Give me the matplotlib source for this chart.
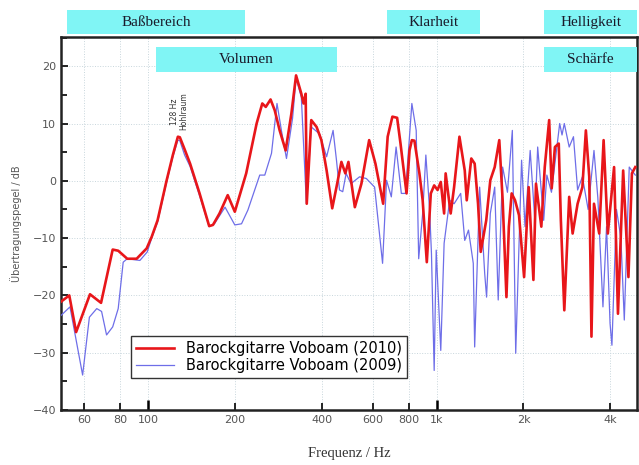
import matplotlib
matplotlib.use("Agg")
import matplotlib.pyplot as plt
from matplotlib.patches import Rectangle
from matplotlib.ticker import FixedLocator, MultipleLocator, NullLocator

freq_2010 = [50, 53.4, 56.4, 63, 68.8, 75.5, 78.9, 84.8, 91.4, 99, 103, 108, 116, 122, 127, 129,
             134, 140, 151, 163, 168, 177, 189, 200, 219, 238, 249, 256, 266, 275, 286, 300,
             314, 326, 340, 346, 352, 355, 368, 384, 399, 416, 435, 450, 468, 483, 495, 521,
             549, 584, 614, 653, 677, 703, 730, 750, 762, 787, 806, 821, 838, 872, 895, 925,
             955, 981, 1008, 1034, 1062, 1075, 1119, 1150, 1200, 1252, 1272, 1319, 1355, 1392,
             1422, 1486, 1535, 1590, 1649, 1694, 1746, 1780, 1820, 1870, 1930, 2010, 2085,
             2165, 2210, 2306, 2370, 2455, 2505, 2570, 2650, 2695, 2770, 2880, 2960, 3080,
             3200, 3290, 3380, 3440, 3510, 3660, 3790, 3920, 4120, 4250, 4430, 4620, 4750, 4880]
db_2010 = [-21.1, -20.0, -26.4, -19.8, -21.3, -12.0, -12.2, -13.6, -13.6, -11.8, -9.8, -6.9,
           0.0, 4.5, 7.7, 7.6, 5.5, 3.0, -2.2, -7.9, -7.7, -5.7, -2.5, -5.4, 1.3, 10.0, 13.5,
           12.9, 14.2, 12.3, 8.8, 5.3, 11.7, 18.4, 15.2, 13.5, 15.2, -4.0, 10.6, 9.4, 7.1, 1.8,
           -4.8, -1.1, 3.3, 1.3, 3.3, -4.6, -0.5, 7.1, 3.0, -4.0, 7.7, 11.2, 11.0, 6.5, 3.6,
           -2.2, 5.3, 7.1, 7.0, 1.3, -3.4, -14.2, -2.2, -0.8, -1.6, -0.2, -5.7, 1.3, -5.7,
           -1.1, 7.7, 1.8, -3.4, 3.9, 3.0, -4.0, -12.4, -6.9, 0.1, 2.4, 7.1, -3.4, -20.3,
           -8.0, -2.2, -3.4, -6.0, -16.8, -1.1, -17.3, -0.5, -8.0, 2.4, 10.6, -1.3, 5.9, 6.5,
           -6.9, -22.6, -2.8, -9.2, -4.0, -1.1, 8.8, 0.7, -27.2, -4.0, -9.2, 7.1, -9.2, 2.4,
           -23.2, 1.8, -16.8, 1.3, 2.4]

freq_2009 = [50, 53.7, 59.4, 62.7, 66.5, 69.1, 71.9, 75.5, 78.9, 82.1, 84.8, 93.8, 99.5, 103,
             108, 116, 122, 127, 129, 134, 140, 151, 163, 170, 185, 200, 211, 222, 244, 254,
             268, 280, 290, 302, 317, 326, 340, 354, 368, 393, 416, 438, 450, 461, 473, 486,
             505, 541, 571, 610, 650, 671, 697, 724, 755, 780, 821, 850, 867, 895, 918, 946,
             960, 981, 997, 1034, 1062, 1110, 1150, 1212, 1252, 1290, 1340, 1355, 1410, 1468,
             1490, 1535, 1590, 1635, 1694, 1760, 1830, 1880, 1970, 2025, 2110, 2190, 2240,
             2350, 2410, 2500, 2670, 2720, 2770, 2880, 2980, 3080, 3200, 3350, 3510, 3620,
             3770, 3880, 3990, 4050, 4200, 4350, 4470, 4650, 4880]
db_2009 = [-23.5, -22.0, -33.9, -23.8, -22.3, -22.8, -26.9, -25.5, -22.3, -14.2, -13.6, -13.9,
           -12.4, -10.0, -7.2, -0.3, 4.2, 7.1, 7.0, 4.5, 2.5, -2.6, -8.0, -7.5, -4.6, -7.7,
           -7.5, -5.1, 1.0, 1.0, 4.8, 13.5, 8.8, 3.9, 10.9, 17.9, 14.6, -4.0, 9.4, 8.2, 4.2,
           8.8, 3.6, -1.6, -1.9, 1.3, -0.5, 0.7, 0.4, -1.1, -14.4, 0.1, -2.8, 5.9, -2.2, -2.2,
           13.5, 8.8, -13.6, -5.7, 4.5, -5.1, -12.7, -33.1, -12.1, -29.6, -10.9, -3.4, -4.0,
           -2.2, -10.4, -8.6, -14.4, -29.0, -1.1, -16.2, -20.3, -5.7, -1.1, -20.8, 2.4, -2.0,
           8.8, -30.1, 3.6, -8.0, 5.3, -6.9, 5.9, -6.9, 1.0, -2.0, 10.0, 8.0, 10.0, 5.9, 7.7,
           -1.6, 0.7, -5.0, 5.3, -3.0, -22.0, -8.0, -24.9, -28.7, -5.0, -10.0, -24.3, 2.4, 1.0]

x_ticks = [60, 80, 100, 200, 400, 600, 800, 1000, 2000, 4000]
x_labels = ["60", "80", "100", "200", "400", "600", "800", "1k", "2k", "4k"]

# Bereiche oben: (Text, f_min, f_max, obere Reihe?)
bereiche = [("Baßbereich", 52.5, 217, True), ("Klarheit", 676, 1409, True),
            ("Helligkeit", 2365, 4950, True), ("Volumen", 107, 451, False),
            ("Schärfe", 2365, 4950, False)]

fig = plt.figure(figsize=(6.39, 4.65), dpi=100)
ax = fig.add_axes([0.0955, 0.1183, 0.9015, 0.8021])

ax.plot(freq_2009, db_2009, color="#6e6ee8", lw=0.9, label="Barockgitarre Voboam (2009)", zorder=3)
ax.plot(freq_2010, db_2010, color="#e8161a", lw=1.9, label="Barockgitarre Voboam (2010)", zorder=4)

ax.set_xscale("log")
ax.set_xlim(50, 4950)
ax.set_ylim(-40, 25.1)
ax.xaxis.set_major_locator(FixedLocator(x_ticks))
ax.xaxis.set_minor_locator(NullLocator())
ax.set_xticklabels(x_labels)
ax.yaxis.set_major_locator(MultipleLocator(10))
ax.yaxis.set_minor_locator(MultipleLocator(5))
ax.tick_params(direction="in", labelsize=8, labelcolor="#555555", width=1.2, length=5)
ax.tick_params(which="minor", direction="in", length=4, width=1.2)
for t, f in zip(ax.xaxis.get_major_ticks(), x_ticks):
    if f in (100, 1000):
        t.tick1line.set_markersize(7)
        t.tick1line.set_markeredgewidth(1.8)
ax.grid(True, color="#c8d6dc", lw=0.7, ls=":")
for s in ax.spines.values():
    s.set_linewidth(1.8)
    s.set_color("#222222")

ax.set_xlabel("Frequenz / Hz", family="Liberation Serif", fontsize=10.5, color="#333333", labelpad=16)
ax.set_ylabel("Übertragungspegel / dB", fontsize=7, color="#555555", labelpad=8)

ax.text(128, 8.8, "128 Hz\nHohlraum", rotation=90, ha="center", va="bottom", fontsize=5.5,
        color="#333333", linespacing=1.0)

trans = ax.get_xaxis_transform()
for name, f0, f1, oben in bereiche:
    y0, y1 = (1.008, 1.072) if oben else (0.906, 0.973)
    ax.add_patch(Rectangle((f0, y0), f1 - f0, y1 - y0, transform=trans, facecolor="#80f5f5",
                           edgecolor="none", clip_on=False, zorder=6))
    ax.text((f0 * f1) ** 0.5, (y0 + y1) / 2, name, transform=trans, ha="center", va="center",
            family="Liberation Serif", fontsize=11, color="#1a1a2a", zorder=7, clip_on=False)

h, l = ax.get_legend_handles_labels()
leg = ax.legend(h[::-1], l[::-1], loc="lower left", bbox_to_anchor=(0.1215, 0.086), fontsize=10.5,
                fancybox=False, edgecolor="#333333", framealpha=1, handlelength=2.6, borderpad=0.35,
                labelspacing=0.15, borderaxespad=0)
leg.get_frame().set_linewidth(1.0)
leg.set_zorder(8)

fig.savefig("out.png", dpi=100)
